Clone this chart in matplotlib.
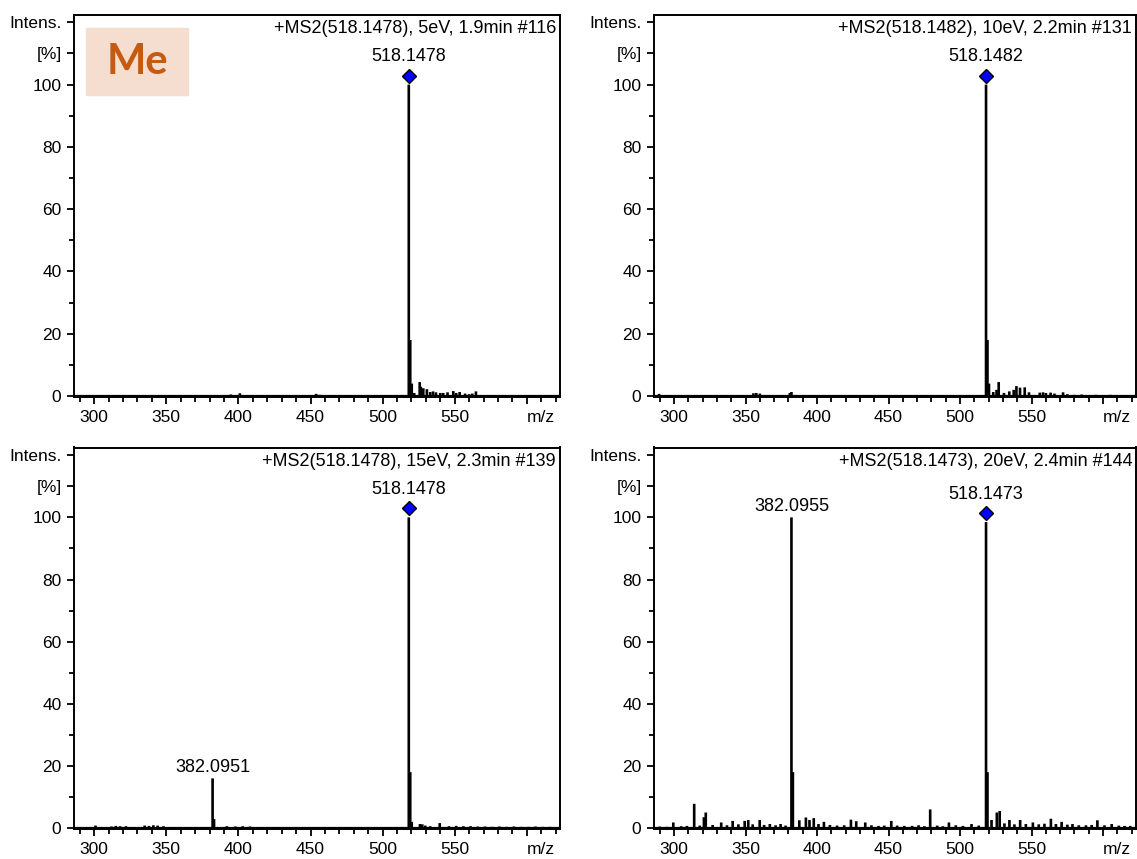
import matplotlib
matplotlib.use("Agg")
import matplotlib.pyplot as plt
from matplotlib.patches import Rectangle
from matplotlib.transforms import ScaledTranslation

plt.rcParams['font.family'] = ['Liberation Sans', 'DejaVu Sans']

# panel titles
titles = ['+MS2(518.1478), 5eV, 1.9min #116',
          '+MS2(518.1482), 10eV, 2.2min #131',
          '+MS2(518.1478), 15eV, 2.3min #139',
          '+MS2(518.1473), 20eV, 2.4min #144']

# (m/z, relative intensity %)
peaks_5ev = [(349.4, 0.2), (380.9, 0.3), (394.7, 0.5), (401.0, 0.9), (425.5, 0.3),
             (433.8, 0.3), (440.0, 0.3), (453.9, 0.7), (456.5, 0.4), (461.5, 0.3),
             (518.15, 100), (519.15, 18), (520.2, 4.0), (521.9, 1.0), (525.7, 4.5),
             (526.5, 3.0), (528.2, 2.5), (530.7, 2.2), (533.0, 1.3), (535.0, 1.5),
             (537.0, 1.2), (540.0, 1.0), (542.0, 1.0), (545.0, 1.2), (549.0, 1.6),
             (551.0, 1.0), (553.4, 1.3), (557.2, 0.8), (560.0, 0.6), (562.2, 0.8),
             (564.7, 1.5), (570, 0.3), (575, 0.3), (580, 0.3), (585, 0.2),
             (590, 0.3), (595, 0.3), (600, 0.2), (605, 0.3)]

peaks_10ev = [(289.6, 0.7), (295.0, 0.3), (355.5, 0.9), (357.5, 1.0), (360.0, 0.8),
              (367.8, 0.3), (381.0, 1.0), (382.1, 1.3), (390.0, 0.3), (478.8, 0.2),
              (494.4, 0.2), (518.15, 100), (519.15, 18), (520.2, 4.0), (523.2, 1.3),
              (525.5, 2.0), (527.0, 4.5), (530.7, 1.0), (534.4, 1.5), (537.5, 2.0),
              (539.4, 3.2), (541.9, 2.7), (545.2, 2.8), (548.2, 1.2), (555.7, 1.1),
              (558, 1.2), (560, 1.0), (563.3, 1.1), (566, 0.8), (572.0, 1.2),
              (575, 0.6), (580, 0.4), (585, 0.5), (590, 0.3), (595, 0.4),
              (600, 0.3), (605, 0.4), (612, 0.3)]

peaks_15ev = [(300.9, 0.8), (307, 0.3), (312, 0.5), (315, 0.7), (318, 0.6),
              (322, 0.6), (335, 0.8), (338, 0.7), (341, 0.9), (344, 0.8),
              (348, 0.6), (353, 0.3), (358, 0.3), (382.1, 16), (383.1, 2.9),
              (392, 0.6), (398, 0.5), (403, 0.6), (408, 0.5), (420.9, 0.3),
              (518.15, 100), (519.15, 18), (520.2, 2.0), (525.9, 1.3), (527.5, 1.2),
              (529.6, 0.8), (533, 0.6), (539.6, 1.6), (546, 0.6), (551, 0.7),
              (556, 0.6), (561, 0.6), (566, 0.5), (571, 0.5), (576, 0.4),
              (581, 0.5), (586, 0.4), (591, 0.5), (596, 0.4), (601, 0.4),
              (606, 0.5), (611, 0.4), (616, 0.4)]

peaks_20ev = [(290, 0.5), (295, 0.4), (299.5, 1.8), (305, 0.6), (309, 0.7),
              (314.1, 7.8), (318, 0.8), (320.9, 3.5), (322.2, 5.0), (327, 1.0),
              (333, 1.8), (337, 0.9), (341, 2.3), (345, 1.2), (349.4, 2.3),
              (351.9, 2.6), (355, 1.2), (359.9, 2.6), (363, 1.0), (367, 1.3),
              (371, 0.9), (374.5, 1.3), (378, 0.8), (382.1, 100), (383.1, 18),
              (387.6, 2.5), (392.2, 3.4), (394.7, 2.6), (397.7, 3.2), (401, 1.3),
              (404.8, 2.0), (409, 1.0), (414, 0.8), (419, 0.9), (423.7, 2.7),
              (427.4, 2.2), (433.7, 1.8), (438, 0.9), (443, 0.7), (447, 0.8),
              (451.9, 2.3), (456, 0.8), (461, 0.7), (466.5, 0.7), (471, 0.9),
              (475, 0.6), (479.1, 6.0), (484, 0.8), (488, 0.6), (492.2, 1.8),
              (497, 0.9), (502, 0.7), (508, 1.3), (513, 0.8), (518.15, 98.5),
              (519.15, 18), (522, 2.6), (525.7, 5.0), (527.7, 5.5), (531, 1.5),
              (534.5, 2.6), (538, 1.2), (542, 2.6), (546, 1.3), (550.9, 1.8),
              (555, 1.2), (559, 1.4), (563.5, 3.0), (567, 1.3), (571, 2.0),
              (575, 1.1), (578.6, 1.3), (583, 0.9), (588, 0.9), (592, 1.0),
              (596, 2.5), (601, 0.9), (606, 1.3), (611, 0.8), (615, 0.7), (619, 0.7)]

spectra = [peaks_5ev, peaks_10ev, peaks_15ev, peaks_20ev]

# labelled peaks: (m/z position, label, precursor diamond?)
labels = [[(518.15, '518.1478', True)],
          [(518.15, '518.1482', True)],
          [(382.1, '382.0951', False), (518.15, '518.1478', True)],
          [(382.1, '382.0955', False), (518.15, '518.1473', True)]]

W, H = 1137, 859
fig = plt.figure(figsize=(W / 100, H / 100), dpi=100)

rects = [(74, 14.5, 486, 382.5), (654, 14.5, 482, 382.5),
         (74, 447.5, 486, 381.5), (654, 447.5, 482, 381.5)]

for i, (x0, y0, w, h) in enumerate(rects):
    ax = fig.add_axes([x0 / W, 1 - (y0 + h) / H, w / W, h / H])
    mz = [p[0] for p in spectra[i]]
    inten = [p[1] for p in spectra[i]]
    ax.vlines(mz, 0, inten, color='black', lw=1.9, snap=False)
    ax.axhline(0, color='black', lw=1.6)

    lift = ax.transData + ScaledTranslation(0, 6.5 / 72, fig.dpi_scale_trans)
    for xm, lab, diamond in labels[i]:
        top = inten[mz.index(xm)]
        if diamond:
            ax.plot(xm, top, marker='D', ms=7.5, mfc='#0000FF', mec='black',
                    mew=1.0, transform=lift, clip_on=False, zorder=5)
            ax.annotate(lab, xy=(xm, top), xytext=(0, 14), textcoords='offset points',
                        ha='center', va='bottom', fontsize=13)
        else:
            ax.annotate(lab, xy=(xm, top), xytext=(0, 2), textcoords='offset points',
                        ha='center', va='bottom', fontsize=13)

    ax.set_xlim(286, 623)
    ax.set_ylim(-0.3, 122.5)
    ax.set_xticks([300, 350, 400, 450, 500, 550, 600])
    ax.set_xticklabels(['300', '350', '400', '450', '500', '550', ''])
    ax.set_xticks(range(290, 621, 10), minor=True)
    ax.set_yticks([0, 20, 40, 60, 80, 100, 110, 120])
    ax.set_yticklabels(['0', '20', '40', '60', '80', '100', '[%]', 'Intens.'])
    ax.set_yticks(range(10, 100, 20), minor=True)
    ax.tick_params(which='major', direction='out', length=5, width=1.3,
                   labelsize=12.5, pad=4)
    ax.tick_params(which='minor', direction='out', length=3.5, width=1.3)
    for s in ax.spines.values():
        s.set_linewidth(1.4)
    ax.annotate('m/z', xy=(0.961, 0), xycoords='axes fraction', xytext=(0, -9),
                textcoords='offset points', ha='center', va='top', fontsize=12.5)
    ax.text(0.992, 0.985, titles[i], transform=ax.transAxes, ha='right', va='top',
            fontsize=13)

# "Me" tag in the first panel
fig.patches.append(Rectangle((86 / W, 1 - 95 / H), 102 / W, 67 / H,
                             transform=fig.transFigure, color='#F5DDD0', zorder=0))
fig.text(137 / W, 1 - 62 / H, 'Me', ha='center', va='center', fontsize=30,
         fontweight='bold', color='#C55A11', family=['Lato', 'DejaVu Sans'])

fig.savefig('out.png', dpi=100)
